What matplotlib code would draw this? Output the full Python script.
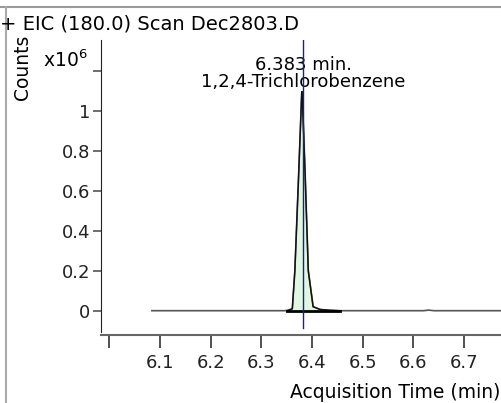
import matplotlib.pyplot as plt
from matplotlib.lines import Line2D

# chromatogram trace (time in min, counts x10^6)
times = [6.084, 6.20, 6.30, 6.345, 6.355, 6.361, 6.366, 6.373, 6.380, 6.386,
         6.3925, 6.402, 6.416, 6.435, 6.455, 6.55, 6.62, 6.63, 6.64, 6.775]
counts = [0.0, 0.0, 0.0, 0.0, 0.002, 0.01, 0.20, 0.65, 1.12, 0.70,
          0.20, 0.02, 0.006, 0.002, 0.0, 0.0, 0.0, 0.003, 0.0, 0.0]

# integrated region of the peak
peak_times = [6.350, 6.361, 6.366, 6.373, 6.380, 6.386, 6.3925, 6.402, 6.416, 6.435, 6.455]
peak_counts = [0.0, 0.01, 0.20, 0.65, 1.12, 0.70, 0.20, 0.02, 0.006, 0.002, 0.0]

rt = 6.383
compound = "1,2,4-Trichlorobenzene"
xticks = [6.0, 6.1, 6.2, 6.3, 6.4, 6.5, 6.6, 6.7]
xlabels = ["", "6.1", "6.2", "6.3", "6.4", "6.5", "6.6", "6.7"]
yticks = [0, 0.2, 0.4, 0.6, 0.8, 1.0, 1.2]
ylabels = ["0", "0.2", "0.4", "0.6", "0.8", "1", ""]

plt.rcParams['font.family'] = ['DejaVu Sans']
W, H = 502, 403

fig = plt.figure(figsize=(W / 100, H / 100), dpi=100)
ax = fig.add_axes([101 / W, 1 - 332 / H, 1 - 101 / W, (332 - 40) / H])

ax.fill_between(peak_times, peak_counts, 0, color="#e0f8e0", zorder=1)
ax.plot(times, counts, color="#555555", lw=1.2, zorder=2)
ax.plot(peak_times, peak_counts, color="#111111", lw=1.0, zorder=3)
ax.plot([peak_times[0], peak_times[-1]], [0, 0], color="black", lw=2.0, zorder=3)

ax.set_xlim(5.9836, 6.7746)
ax.set_ylim(-0.1065, 1.3535)
ax.set_xticks(xticks)
ax.set_xticklabels(xlabels)
ax.set_yticks(yticks)
ax.set_yticklabels(ylabels)
ax.tick_params(axis="both", direction="out", labelsize=13, colors="#222222")
ax.tick_params(axis="x", length=9, width=1.2, pad=5, color="#333333")
ax.tick_params(axis="y", length=6, width=1.2, pad=2, color="#555555")
for s in ["top", "right"]:
    ax.spines[s].set_visible(False)
ax.spines["left"].set_color("#222222")
ax.spines["bottom"].set_color("#666666")
ax.spines["bottom"].set_position(("outward", 2))
ax.spines["bottom"].set_linewidth(1.5)

ax.text(rt, 1.226, "6.383 min.", ha="center", va="center", fontsize=13, zorder=5)
ax.text(rt, 1.142, compound, ha="center", va="center", fontsize=13,
        zorder=5, bbox=dict(facecolor="white", edgecolor="none", pad=0))
ax.axvline(rt, ymin=0.015, ymax=1.0, color="#1a1aa8", lw=1.0, zorder=6)

fig.text(0.0, 1 - 24 / H, "+ EIC (180.0) Scan Dec2803.D", ha="left", va="center", fontsize=14)
fig.text(23 / W, 1 - 67 / H, "Counts", rotation=90, ha="center", va="center", fontsize=13.5)
fig.text(43 / W, 1 - 60 / H, r"x10$^6$", ha="left", va="center", fontsize=13.5)
fig.text(1 - 2 / W, 1 - 393 / H, "Acquisition Time (min)", ha="right", va="center", fontsize=13.5)

fig.add_artist(Line2D([0, 1], [1 - 7 / H, 1 - 7 / H], color="#999999", lw=1.5))
fig.add_artist(Line2D([6 / W, 6 / W], [0, 1 - 7 / H], color="#aaaaaa", lw=1.5))

fig.savefig("out.png", dpi=100)
